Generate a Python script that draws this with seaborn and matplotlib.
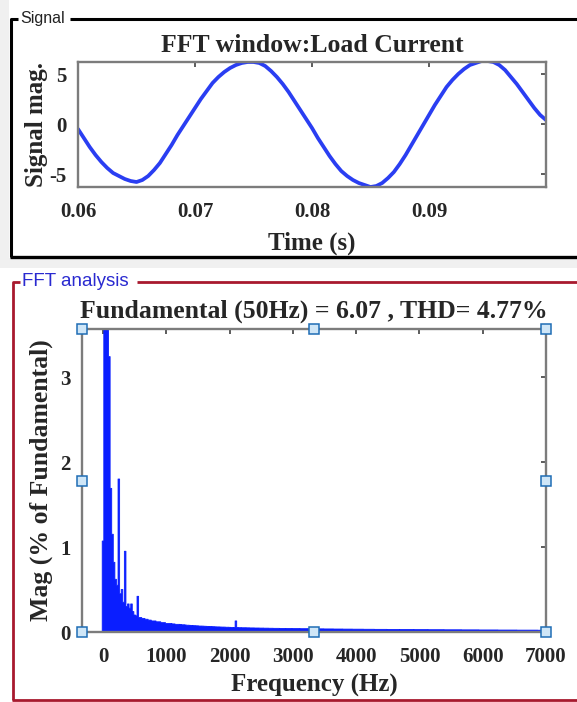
import numpy as np
import pandas as pd
import matplotlib
matplotlib.use("Agg")
import matplotlib.pyplot as plt
from matplotlib.lines import Line2D
from matplotlib.patches import Rectangle
import seaborn as sns

# ---------------- data ----------------
time_s = [0.0600, 0.0605, 0.0610, 0.0615, 0.0620, 0.0625, 0.0630, 0.0635, 0.0640, 0.0645,
          0.0650, 0.0655, 0.0660, 0.0665, 0.0670, 0.0675, 0.0680, 0.0685, 0.0690, 0.0695,
          0.0700, 0.0705, 0.0710, 0.0715, 0.0720, 0.0725, 0.0730, 0.0735, 0.0740, 0.0745,
          0.0750, 0.0755, 0.0760, 0.0765, 0.0770, 0.0775, 0.0780, 0.0785, 0.0790, 0.0795,
          0.0800, 0.0805, 0.0810, 0.0815, 0.0820, 0.0825, 0.0830, 0.0835, 0.0840, 0.0845,
          0.0850, 0.0855, 0.0860, 0.0865, 0.0870, 0.0875, 0.0880, 0.0885, 0.0890, 0.0895,
          0.0900, 0.0905, 0.0910, 0.0915, 0.0920, 0.0925, 0.0930, 0.0935, 0.0940, 0.0945,
          0.0950, 0.0955, 0.0960, 0.0965, 0.0970, 0.0975, 0.0980, 0.0985, 0.0990, 0.0995,
          0.1000]
signal_mag = [-0.5, -1.4, -2.3, -3.1, -3.8, -4.4, -4.9, -5.2, -5.5, -5.7,
              -5.8, -5.6, -5.2, -4.6, -3.9, -3.0, -2.1, -1.1, -0.2, 0.7,
              1.6, 2.5, 3.3, 4.1, 4.7, 5.2, 5.6, 5.9, 6.1, 6.2,
              6.2, 6.1, 5.8, 5.3, 4.7, 4.0, 3.2, 2.3, 1.4, 0.5,
              -0.4, -1.4, -2.3, -3.2, -4.0, -4.7, -5.2, -5.6, -5.9, -6.1,
              -6.3, -6.2, -5.9, -5.4, -4.8, -4.0, -3.1, -2.1, -1.1, -0.1,
              0.9, 1.9, 2.8, 3.7, 4.4, 5.0, 5.5, 5.9, 6.1, 6.3,
              6.3, 6.2, 5.9, 5.4, 4.7, 4.0, 3.2, 2.4, 1.6, 0.9,
              0.4]

freq_step_hz = 25
harmonic_mag = [
    1.07, 4.0, 100.0, 4.0, 3.24, 1.69, 1.15, 0.82, 0.62, 0.55,
    1.80, 0.45, 0.50, 0.35, 0.95, 0.30, 0.33, 0.28, 0.33, 0.24,
    0.20, 0.19, 0.42, 0.17, 0.17, 0.16, 0.16, 0.15, 0.15, 0.14,
    0.14, 0.13, 0.13, 0.13, 0.12, 0.12, 0.12, 0.11, 0.11, 0.11,
    0.10, 0.10, 0.10, 0.10, 0.095, 0.095, 0.09, 0.09, 0.09, 0.088,
    0.085, 0.085, 0.083, 0.08, 0.08, 0.078, 0.077, 0.075, 0.074, 0.073,
    0.072, 0.07, 0.07, 0.069, 0.068, 0.067, 0.066, 0.065, 0.064, 0.063,
    0.062, 0.061, 0.06, 0.06, 0.059, 0.058, 0.058, 0.057, 0.056, 0.056,
    0.055, 0.054, 0.054, 0.053, 0.13, 0.052, 0.051, 0.051, 0.05, 0.05,
    0.050, 0.049, 0.049, 0.048, 0.048, 0.048, 0.047, 0.047, 0.047, 0.046,
    0.046, 0.046, 0.045, 0.045, 0.045, 0.044, 0.044, 0.044, 0.043, 0.043,
    0.043, 0.043, 0.042, 0.042, 0.042, 0.042, 0.041, 0.041, 0.041, 0.041,
    0.040, 0.040, 0.040, 0.040, 0.040, 0.039, 0.039, 0.039, 0.039, 0.039,
    0.038, 0.038, 0.038, 0.038, 0.038, 0.037, 0.037, 0.037, 0.037, 0.037,
    0.036, 0.036, 0.036, 0.036, 0.036, 0.036, 0.035, 0.035, 0.035, 0.035,
    0.035, 0.035, 0.034, 0.034, 0.034, 0.034, 0.034, 0.034, 0.033, 0.033,
    0.033, 0.033, 0.033, 0.033, 0.033, 0.032, 0.032, 0.032, 0.032, 0.032,
    0.032, 0.032, 0.031, 0.031, 0.031, 0.031, 0.031, 0.031, 0.031, 0.031,
    0.030, 0.030, 0.030, 0.030, 0.030, 0.030, 0.030, 0.030, 0.029, 0.029,
    0.029, 0.029, 0.029, 0.029, 0.029, 0.029, 0.029, 0.028, 0.028, 0.028,
    0.028, 0.028, 0.028, 0.028, 0.028, 0.028, 0.027, 0.027, 0.027, 0.027,
    0.027, 0.027, 0.027, 0.027, 0.027, 0.027, 0.026, 0.026, 0.026, 0.026,
    0.026, 0.026, 0.026, 0.026, 0.026, 0.026, 0.026, 0.025, 0.025, 0.025,
    0.025, 0.025, 0.025, 0.025, 0.025, 0.025, 0.025, 0.025, 0.024, 0.024,
    0.024, 0.024, 0.024, 0.024, 0.024, 0.024, 0.024, 0.024, 0.024, 0.024,
    0.023, 0.023, 0.023, 0.023, 0.023, 0.023, 0.023, 0.023, 0.023, 0.023,
    0.023, 0.023, 0.022, 0.022, 0.022, 0.022, 0.022, 0.022, 0.022, 0.022,
    0.022, 0.022, 0.022, 0.022, 0.022, 0.021, 0.021, 0.021, 0.021, 0.021,
    0.021,
]
freqs = [i * freq_step_hz for i in range(len(harmonic_mag))]

time_ticks = [0.06, 0.07, 0.08, 0.09]
time_tick_labels = ["0.06", "0.07", "0.08", "0.09"]
sig_ticks = [-5, 0, 5]
freq_ticks = [0, 1000, 2000, 3000, 4000, 5000, 6000, 7000]
mag_ticks = [0, 1, 2, 3]

title_top = "FFT window:Load Current"
title_bottom = "Fundamental (50Hz) = 6.07 , THD= 4.77%"

# ---------------- style ----------------
sns.set_theme(style="white")
plt.rcParams["font.family"] = ["Liberation Serif", "DejaVu Serif"]
plt.rcParams["font.weight"] = "bold"
plt.rcParams["axes.unicode_minus"] = False

W, H = 577, 702
fig = plt.figure(figsize=(W / 100, H / 100), dpi=100)
fig.patch.set_facecolor("white")


def fx(px):
    return px / W


def fy(py):
    return 1 - py / H


# background panels
fig.patches.append(Rectangle((0, fy(268)), 1, fy(258) - fy(268), transform=fig.transFigure,
                             facecolor="#f0f0f0", edgecolor="none", zorder=0))
fig.patches.append(Rectangle((0, fy(258)), fx(9), fy(0) - fy(258), transform=fig.transFigure,
                             facecolor="#f0f0f0", edgecolor="none", zorder=0))


def fline(xs, ys, color, lw):
    fig.add_artist(Line2D([fx(x) for x in xs], [fy(y) for y in ys], color=color, lw=lw,
                          transform=fig.transFigure, solid_capstyle="butt"))


fline([11, 11, 18], [257, 18.5, 18.5], "black", 2.2)
fline([70, 577], [18.5, 18.5], "black", 2.2)
fline([10, 577], [257, 257], "black", 2.4)
red = "#a8192e"
fline([13, 13, 20], [700, 281.5, 281.5], red, 2.0)
fline([137, 577], [281.5, 281.5], red, 2.0)
fline([12, 577], [700, 700], red, 2.0)
sans = ["Liberation Sans", "DejaVu Sans"]
fig.text(fx(20), fy(18.5), "Signal", fontsize=11.5, family=sans,
         weight="normal", color="#222222", va="center", ha="left")
fig.text(fx(22), fy(281.5), "FFT analysis", fontsize=13.5, family=sans,
         weight="normal", color="#2a2ad0", va="center", ha="left")

spine_col = "#7c7c7c"
TICK_FS = 15
LABEL_FS = 18
TITLE_FS = 18.5


def style_axes(ax, xpad, ypad):
    for s in ax.spines.values():
        s.set_visible(True)
        s.set_color(spine_col)
        s.set_linewidth(1.7)
    ax.tick_params(direction="in", length=3.5, width=1.1, color="#303030",
                   top=True, right=True, labelsize=TICK_FS)
    ax.tick_params(axis="x", pad=xpad)
    ax.tick_params(axis="y", pad=ypad)
    for lab in ax.get_xticklabels() + ax.get_yticklabels():
        lab.set_fontweight("bold")


# ---------------- top axes ----------------
ax1 = fig.add_axes([fx(78), fy(187), fx(546) - fx(78), fy(62) - fy(187)])
df_sig = pd.DataFrame({"t": time_s, "y": signal_mag})
sns.lineplot(data=df_sig, x="t", y="y", ax=ax1, color="#2a3ef2", lw=2.7)
ax1.set_xlim(0.06, 0.1)
ax1.set_ylim(-6.3, 6.2)
ax1.set_xticks(time_ticks)
ax1.set_xticklabels(time_tick_labels)
ax1.set_yticks(sig_ticks)
ax1.set_xlabel("Time (s)", fontsize=LABEL_FS, weight="bold", labelpad=7)
ax1.set_ylabel("Signal mag.", fontsize=LABEL_FS, weight="bold", labelpad=1)
ax1.set_title(title_top, fontsize=TITLE_FS, weight="bold", pad=7)
style_axes(ax1, 11, 8)

# ---------------- bottom axes ----------------
ax2 = fig.add_axes([fx(82), fy(632), fx(546) - fx(82), fy(329) - fy(632)])
df_fft = pd.DataFrame({"f": freqs, "mag": harmonic_mag})
sns.histplot(data=df_fft, x="f", weights="mag", binwidth=freq_step_hz,
             binrange=(-freq_step_hz / 2, freqs[-1] + freq_step_hz / 2),
             element="step", fill=True, color="#0a1eff", alpha=1.0,
             linewidth=0.6, ax=ax2)
ax2.set_xlim(-332, 7000)
ax2.set_ylim(0, 3.565)
ax2.set_xticks(freq_ticks)
ax2.set_yticks(mag_ticks)
ax2.set_xlabel("Frequency (Hz)", fontsize=LABEL_FS, weight="bold", labelpad=5)
ax2.set_ylabel("Mag (% of Fundamental)", fontsize=LABEL_FS + 0.5, weight="bold", labelpad=5)
ax2.set_title(title_bottom, fontsize=TITLE_FS, weight="bold", pad=8)
style_axes(ax2, 11, 8)

# selection handles
hx = [0, 0, 0, 0.5, 0.5, 1, 1, 1]
hy = [0, 0.5, 1, 0, 1, 0, 0.5, 1]
ax2.plot(hx, hy, ls="none", marker="s", ms=7.5, mfc="#cfe6f7", mec="#1f6db5", mew=1.1,
         transform=ax2.transAxes, clip_on=False, zorder=10)

fig.savefig("out.png", dpi=100, facecolor=fig.get_facecolor())
